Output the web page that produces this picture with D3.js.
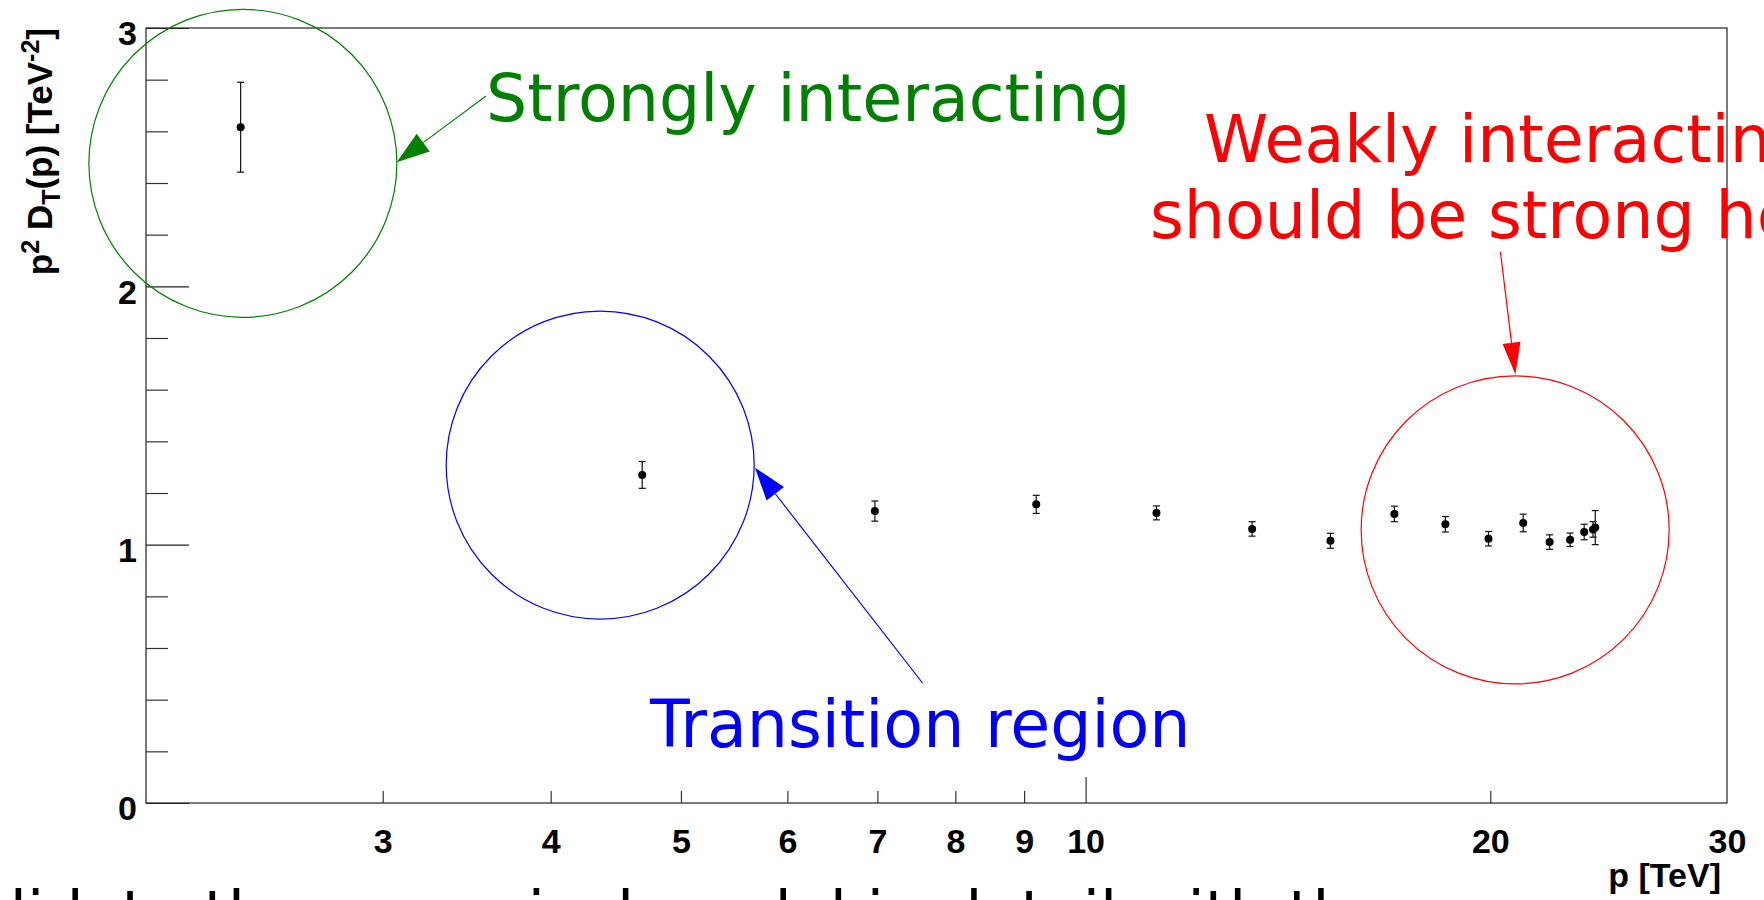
<!DOCTYPE html>
<html><head><meta charset="utf-8">
<script src="https://cdn.jsdelivr.net/npm/d3@7"></script>
<style>body{margin:0;background:#fff;overflow:hidden;} svg{display:block;}</style>
</head><body>
<script>
// ---- data ----
const momenta  = [2.352, 4.679, 6.970, 9.189, 11.29, 13.30, 15.21, 16.97, 18.52, 19.94, 21.16, 22.14, 22.93, 23.49, 23.85, 23.94];
const p2DT     = [2.616, 1.270, 1.130, 1.156, 1.123, 1.061, 1.015, 1.119, 1.079, 1.023, 1.084, 1.010, 1.019, 1.049, 1.059, 1.066];
const p2DTerr  = [0.174, 0.052, 0.039, 0.035, 0.027, 0.028, 0.029, 0.030, 0.030, 0.028, 0.034, 0.028, 0.026, 0.030, 0.030, 0.066];
const xTickLabels = [3, 4, 5, 6, 7, 8, 9, 10, 20, 30];
const xMinorTicks = [3, 4, 5, 6, 7, 8, 9, 20];
const xMajorTicks = [10];
const yTickLabels = [0, 1, 2, 3];
const yMinorTicks = [0.2, 0.4, 0.6, 0.8, 1.2, 1.4, 1.6, 1.8, 2.2, 2.4, 2.6, 2.8];
const xDomain = [2, 30];
const yDomain = [0, 3];

const W = 1764, H = 900;
const frame = {left: 146, right: 1727, top: 28, bottom: 803};
const axisFont = "'Liberation Sans', Arial, Helvetica, sans-serif";
const noteFont = "'DejaVu Sans', Verdana, sans-serif";

const svg = d3.select("body").append("svg").attr("width", W).attr("height", H)
  .style("background", "#fff");

const x = d3.scaleLog().domain(xDomain).range([frame.left, frame.right]);
const y = d3.scaleLinear().domain(yDomain).range([frame.bottom, frame.top]);

// slide text clipped at the bottom (drawn first, behind everything)
svg.append("text").attr("x", -65).attr("y", 935).attr("font-family", noteFont)
  .attr("font-size", 62).attr("fill", "#000")
  .text("validate the numerical model in detail with the");

// frame
svg.append("rect").attr("x", frame.left).attr("y", frame.top)
  .attr("width", frame.right - frame.left).attr("height", frame.bottom - frame.top)
  .attr("fill", "none").attr("stroke", "#222").attr("stroke-width", 1.2);

// y axis (ticks inside)
const yMajor = svg.append("g").attr("transform", `translate(${frame.left},0)`)
  .call(d3.axisLeft(y).tickValues(yTickLabels).tickFormat(d3.format("d")).tickSize(-43).tickPadding(9));
yMajor.select(".domain").remove();
yMajor.selectAll("line").attr("stroke", "#222").attr("stroke-width", 1.2);
yMajor.selectAll("text").attr("font-family", axisFont).attr("font-weight", "bold")
  .attr("font-size", 34).attr("fill", "#000").attr("dy", "0.49em");
const yMin = svg.append("g").attr("transform", `translate(${frame.left},0)`)
  .call(d3.axisLeft(y).tickValues(yMinorTicks).tickFormat("").tickSize(-22));
yMin.select(".domain").remove();
yMin.selectAll("line").attr("stroke", "#333").attr("stroke-width", 1.2);

// x axis (ticks inside)
const xLab = svg.append("g").attr("transform", `translate(0,${frame.bottom})`)
  .call(d3.axisBottom(x).tickValues(xTickLabels).tickFormat(d3.format("d")).tickSize(0).tickPadding(26));
xLab.select(".domain").remove();
xLab.selectAll("text").attr("font-family", axisFont).attr("font-weight", "bold")
  .attr("font-size", 34).attr("fill", "#000");
const xMin = svg.append("g").attr("transform", `translate(0,${frame.bottom})`)
  .call(d3.axisBottom(x).tickValues(xMinorTicks).tickFormat("").tickSize(-12));
xMin.select(".domain").remove();
xMin.selectAll("line").attr("stroke", "#333").attr("stroke-width", 1.2);
const xMaj = svg.append("g").attr("transform", `translate(0,${frame.bottom})`)
  .call(d3.axisBottom(x).tickValues(xMajorTicks).tickFormat("").tickSize(-26));
xMaj.select(".domain").remove();
xMaj.selectAll("line").attr("stroke", "#333").attr("stroke-width", 1.2);

// axis titles
svg.append("text").attr("x", 1721).attr("y", 887).attr("text-anchor", "end")
  .attr("font-family", axisFont).attr("font-weight", "bold").attr("font-size", 34)
  .text("p [TeV]");

const yt = svg.append("text").attr("transform", "translate(52,28) rotate(-90)")
  .attr("text-anchor", "end").attr("font-family", axisFont).attr("font-weight", "bold")
  .attr("font-size", 35);
yt.append("tspan").text("p");
yt.append("tspan").attr("font-size", 25).attr("dy", -13).text("2");
yt.append("tspan").attr("dy", 13).text(" D");
yt.append("tspan").attr("font-size", 25).attr("dy", 8).text("T");
yt.append("tspan").attr("dy", -8).text("(p) [TeV");
yt.append("tspan").attr("font-size", 25).attr("dy", -13).text("-2");
yt.append("tspan").attr("dy", 13).text("]");

// data: error bars and markers
const pts = momenta.map((m, i) => ({x: m, y: p2DT[i], e: p2DTerr[i]}));
const g = svg.append("g");
g.selectAll("line.eb").data(pts).join("line").attr("class", "eb")
  .attr("x1", d => x(d.x)).attr("x2", d => x(d.x))
  .attr("y1", d => y(d.y + d.e)).attr("y2", d => y(d.y - d.e))
  .attr("stroke", "#111").attr("stroke-width", 1.2);
g.selectAll("line.capT").data(pts).join("line").attr("class", "capT")
  .attr("x1", d => x(d.x) - 3.5).attr("x2", d => x(d.x) + 3.5)
  .attr("y1", d => y(d.y + d.e)).attr("y2", d => y(d.y + d.e))
  .attr("stroke", "#111").attr("stroke-width", 1.2);
g.selectAll("line.capB").data(pts).join("line").attr("class", "capB")
  .attr("x1", d => x(d.x) - 3.5).attr("x2", d => x(d.x) + 3.5)
  .attr("y1", d => y(d.y - d.e)).attr("y2", d => y(d.y - d.e))
  .attr("stroke", "#111").attr("stroke-width", 1.2);
g.selectAll("circle").data(pts).join("circle")
  .attr("cx", d => x(d.x)).attr("cy", d => y(d.y)).attr("r", 4).attr("fill", "#000");

// ---- annotations ----
const circles = [
  {cx: 2.361, cy: 2.476, r: 154, color: "#008000"},
  {cx: 4.354, cy: 1.308, r: 154, color: "#0000ff"},
  {cx: 20.87, cy: 1.057, r: 154, color: "#ff0000"}
];
svg.selectAll("circle.note").data(circles).join("circle").attr("class", "note")
  .attr("cx", d => x(d.cx)).attr("cy", d => y(d.cy)).attr("r", d => d.r)
  .attr("fill", "none").attr("stroke", d => d.color).attr("stroke-width", 1.2);

const arrows = [
  {x1: 486, y1: 96, x2: 396.7, y2: 162.3, color: "#008000", len: 33, half: 11},
  {x1: 922.5, y1: 683, x2: 755, y2: 467.7, color: "#0000ff", len: 33, half: 11},
  {x1: 1500.4, y1: 251.7, x2: 1515.4, y2: 374.6, color: "#ff0000", len: 32, half: 9}
];
arrows.forEach(a => {
  const dx = a.x2 - a.x1, dy = a.y2 - a.y1, L = Math.hypot(dx, dy);
  const ux = dx / L, uy = dy / L;
  const bx = a.x2 - ux * a.len, by = a.y2 - uy * a.len;
  svg.append("line").attr("x1", a.x1).attr("y1", a.y1).attr("x2", bx).attr("y2", by)
    .attr("stroke", a.color).attr("stroke-width", 1.2);
  svg.append("path")
    .attr("d", `M${a.x2},${a.y2}L${bx - uy * a.half},${by + ux * a.half}L${bx + uy * a.half},${by - ux * a.half}Z`)
    .attr("fill", a.color);
});

const notes = [
  {t: "Strongly interacting", x: 486, y: 121, color: "#008000"},
  {t: "Transition region", x: 650, y: 747, color: "#0000ff"},
  {t: "Weakly interacting", x: 1204, y: 161.7, color: "#ff0000"},
  {t: "should be strong here", x: 1150, y: 238.3, color: "#ff0000"}
];
svg.selectAll("text.note").data(notes).join("text").attr("class", "note")
  .attr("x", d => d.x).attr("y", d => d.y).attr("fill", d => d.color)
  .attr("font-family", noteFont).attr("font-size", 65).text(d => d.t);
</script>
</body></html>
